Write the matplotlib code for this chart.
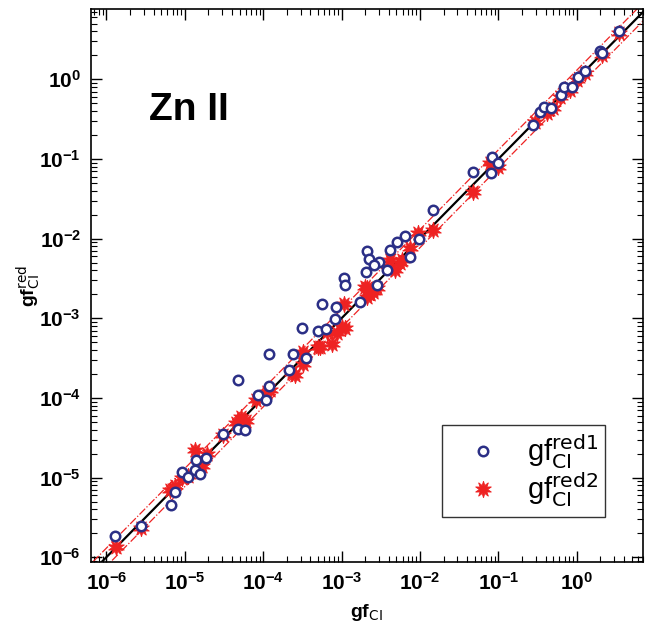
import matplotlib
matplotlib.use("Agg")
import matplotlib.pyplot as plt
import numpy as np

plt.rcParams['font.family'] = ['Liberation Sans', 'DejaVu Sans']
plt.rcParams['mathtext.default'] = 'regular'

# gf_CI vs gf_CI^red1 (open circles)
x_red1 = [1.30e-6, 2.80e-6, 6.62e-6, 7.45e-6, 9.31e-6, 1.10e-5, 1.36e-5, 1.55e-5,
          1.41e-5, 1.89e-5, 3.10e-5, 4.83e-5, 5.93e-5, 4.83e-5, 8.69e-5, 1.09e-4,
          1.20e-4, 1.20e-4, 2.16e-4, 2.43e-4, 3.52e-4, 3.10e-4, 4.97e-4, 6.28e-4,
          5.58e-4, 8.43e-4, 8.26e-4, 1.72e-3, 1.08e-3, 1.11e-3, 2.81e-3, 2.06e-3,
          2.09e-3, 2.26e-3, 3.03e-3, 2.60e-3, 3.78e-3, 4.16e-3, 5.06e-3, 6.46e-3,
          9.75e-3, 7.48e-3, 1.46e-2, 4.71e-2, 8.07e-2, 8.39e-2, 9.82e-2, 0.280,
          0.340, 0.383, 0.471, 0.622, 0.695, 0.863, 1.03, 1.28, 1.98, 2.08, 3.50]
y_red1 = [1.85e-6, 2.44e-6, 4.58e-6, 6.59e-6, 1.175e-5, 1.02e-5, 1.24e-5, 1.10e-5,
          1.68e-5, 1.78e-5, 3.57e-5, 4.05e-5, 3.93e-5, 1.66e-4, 1.08e-4, 9.55e-5,
          1.43e-4, 3.54e-4, 2.23e-4, 3.54e-4, 3.18e-4, 7.57e-4, 6.95e-4, 7.23e-4,
          1.49e-3, 1.37e-3, 9.93e-4, 1.61e-3, 3.22e-3, 2.65e-3, 2.61e-3, 3.76e-3,
          6.97e-3, 5.48e-3, 5.12e-3, 4.65e-3, 4.06e-3, 7.16e-3, 9.12e-3, 1.07e-2,
          9.86e-3, 5.81e-3, 2.28e-2, 6.79e-2, 6.59e-2, 1.047e-1, 8.95e-2, 0.267,
          0.392, 0.450, 0.437, 0.635, 0.794, 0.794, 1.06, 1.28, 2.29, 2.16, 4.05]

# gf_CI vs gf_CI^red2 (stars)
x_red2 = [1.34e-6, 2.80e-6, 6.44e-6, 7.45e-6, 9.3e-6, 1.1e-5, 1.34e-5, 1.66e-5,
          1.9e-5, 3.10e-5, 4.57e-5, 6.03e-5, 5.25e-5, 8.11e-5, 1.12e-4, 1.22e-4,
          2.32e-4, 2.57e-4, 3.26e-4, 3.26e-4, 5.06e-4, 5.37e-4, 6.46e-4, 7.50e-4,
          8.69e-4, 1.0e-3, 1.11e-3, 1.08e-3, 2.0e-3, 2.09e-3, 2.09e-3, 2.55e-3,
          2.29e-3, 2.82e-3, 4.16e-3, 5.86e-3, 4.81e-3, 5.62e-3, 7.48e-3, 9.55e-3,
          1.48e-2, 4.80e-2, 7.83e-2, 0.100, 0.294, 0.414, 0.504, 0.617, 0.822,
          1.0, 1.26, 2.08, 3.50]
y_red2 = [1.34e-6, 2.34e-6, 6.92e-6, 7.9e-6, 1.0e-5, 1.05e-5, 2.20e-5, 1.41e-5,
          2.0e-5, 3.40e-5, 4.79e-5, 5.13e-5, 5.75e-5, 9.55e-5, 1.20e-4, 1.25e-4,
          2.03e-4, 1.93e-4, 2.70e-4, 3.78e-4, 4.38e-4, 4.37e-4, 6.75e-4, 4.82e-4,
          6.44e-4, 7.80e-4, 7.45e-4, 1.53e-3, 2.48e-3, 2.37e-3, 1.86e-3, 2.15e-3,
          2.0e-3, 2.40e-3, 5.37e-3, 5.37e-3, 4.02e-3, 4.90e-3, 7.53e-3, 1.16e-2,
          1.28e-2, 3.87e-2, 8.81e-2, 7.98e-2, 0.293, 0.374, 0.432, 0.603, 0.735,
          0.98, 1.20, 2.02, 3.78]

major_ticks = [1e-6, 1e-5, 1e-4, 1e-3, 1e-2, 1e-1, 1e0]

band_factor = 1.3
x_min, x_max = 10**-6.20, 10**0.846
y_min, y_max = 10**-6.06, 10**0.883

fig = plt.figure(figsize=(6.46, 6.35), dpi=100)
ax = fig.add_axes([0.1404, 0.115, 0.8550, 0.8708])

xx = np.array([1e-7, 1e2])
ax.plot(xx, xx, color='black', lw=1.6, zorder=2)
ax.plot(xx, xx * band_factor, color='#ee2222', lw=0.9, ls='-.', zorder=2)
ax.plot(xx, xx / band_factor, color='#ee2222', lw=0.9, ls='-.', zorder=2)

star_marker = (10, 1, 0)
ax.plot(x_red2, y_red2, ls='none', marker=star_marker, ms=12,
        mfc='#ee2222', mec='#ee2222', mew=0.6, zorder=3,
        label=r'gf$_{\mathrm{CI}}^{\mathrm{red2}}$')
ax.plot(x_red1, y_red1, ls='none', marker='o', ms=6.8,
        mfc='white', mec='#2b2f86', mew=1.8, zorder=4,
        label=r'gf$_{\mathrm{CI}}^{\mathrm{red1}}$')

ax.set_xscale('log')
ax.set_yscale('log')
ax.set_xticks(major_ticks)
ax.set_yticks(major_ticks)
ax.set_xlim(x_min, x_max)
ax.set_ylim(y_min, y_max)

ax.tick_params(which='both', direction='in', top=True, right=True)
ax.tick_params(which='major', length=8, width=1.0, labelsize=15, pad=7)
ax.tick_params(which='minor', length=4, width=0.8)
for lab in ax.get_xticklabels() + ax.get_yticklabels():
    lab.set_fontweight('bold')
for sp in ax.spines.values():
    sp.set_linewidth(1.2)

ax.set_xlabel(r'gf$_{\mathrm{CI}}$', fontsize=14, fontweight='bold')
ax.set_ylabel(r'gf$_{\mathrm{CI}}^{\mathrm{red}}$', fontsize=14, fontweight='bold')
ax.xaxis.set_label_coords(0.5, -0.072)
ax.yaxis.set_label_coords(-0.088, 0.5)

ax.text(0.105, 0.80, 'Zn II', transform=ax.transAxes, fontsize=28,
        fontweight='bold', ha='left', va='baseline')

handles, labels = ax.get_legend_handles_labels()
leg = ax.legend(handles[::-1], labels[::-1], loc='upper left',
                bbox_to_anchor=(0.636, 0.2477), borderaxespad=0,
                fontsize=21, frameon=True, fancybox=False, edgecolor='black',
                handletextpad=0.35, borderpad=0.25, labelspacing=0.0,
                handlelength=2.3)
leg.get_frame().set_linewidth(1.0)

fig.savefig('out.png', dpi=100)
